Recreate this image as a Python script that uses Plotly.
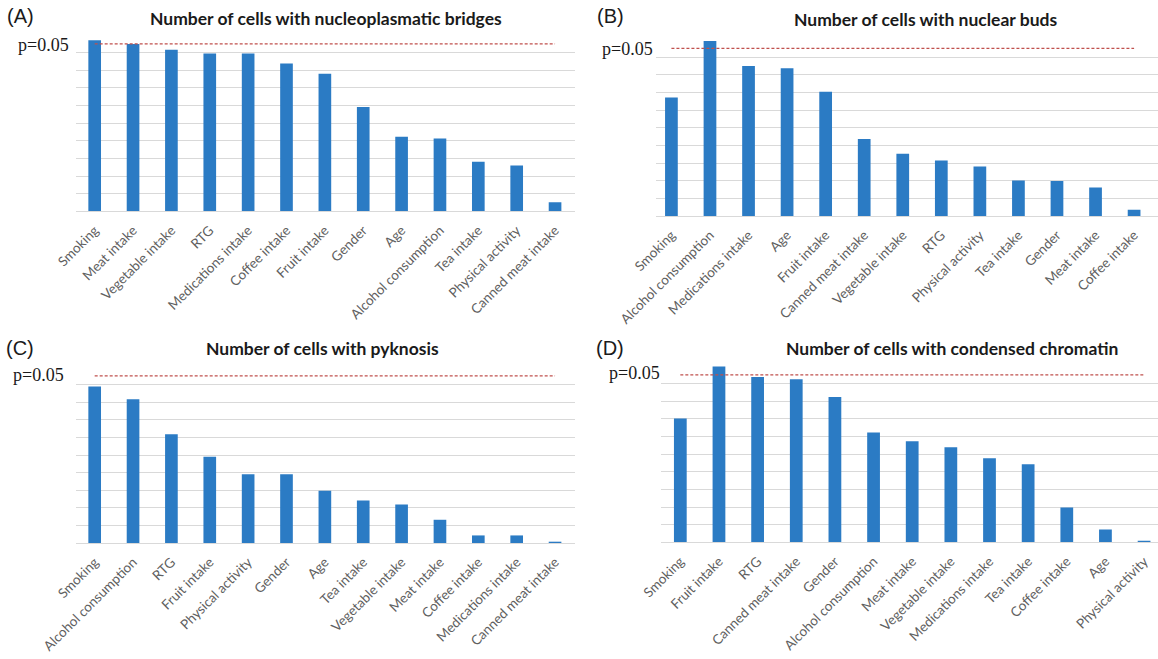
import plotly.graph_objects as go

W, H = 1158, 659

# ---------------- data ----------------
cats_a = ["Smoking", "Meat intake", "Vegetable intake", "RTG", "Medications intake",
          "Coffee intake", "Fruit intake", "Gender", "Age", "Alcohol consumption",
          "Tea intake", "Physical activity", "Canned meat intake"]
vals_a = [9.70, 9.49, 9.17, 8.96, 8.96, 8.38, 7.81, 5.92, 4.23, 4.13, 2.81, 2.60, 0.51]

cats_b = ["Smoking", "Alcohol consumption", "Medications intake", "Age", "Fruit intake",
          "Canned meat intake", "Vegetable intake", "RTG", "Physical activity",
          "Tea intake", "Gender", "Meat intake", "Coffee intake"]
vals_b = [6.72, 9.92, 8.51, 8.38, 7.04, 4.36, 3.53, 3.15, 2.81, 2.02, 1.98, 1.62, 0.36]

cats_c = ["Smoking", "Alcohol consumption", "RTG", "Fruit intake", "Physical activity",
          "Gender", "Age", "Tea intake", "Vegetable intake", "Meat intake",
          "Coffee intake", "Medications intake", "Canned meat intake"]
vals_c = [8.90, 8.17, 6.18, 4.90, 3.91, 3.91, 2.97, 2.42, 2.19, 1.32, 0.43, 0.43, 0.06]

cats_d = ["Smoking", "Fruit intake", "RTG", "Canned meat intake", "Gender",
          "Alcohol consumption", "Meat intake", "Vegetable intake", "Medications intake",
          "Tea intake", "Coffee intake", "Age", "Physical activity"]
vals_d = [7.02, 9.98, 9.38, 9.25, 8.25, 6.23, 5.74, 5.40, 4.77, 4.43, 1.98, 0.72, 0.08]

titles = ["Number of cells with nucleoplasmatic bridges",
          "Number of cells with nuclear buds",
          "Number of cells with pyknosis",
          "Number of cells with condensed chromatin"]
letters = ["(A)", "(B)", "(C)", "(D)"]
p_label = "p=0.05"
p_threshold = 9.5

# ---------------- layout helpers ----------------
def px_x(x):
    return x / W

def px_y(y):
    return 1 - y / H

BAR = "#2b7bc4"
GRID = "#d9d9d9"
DASH = "#c0504d"

panels = [
    dict(cats=cats_a, vals=vals_a, xd=(75.5, 575), yd=(211.3, 34.7), xr=(-0.5, 12.52),
         title_xy=(326, 19), letter_xy=(20, 16), p_xy=(43, 45)),
    dict(cats=cats_b, vals=vals_b, xd=(656, 1158), yd=(216.0, 39.3), xr=(-0.4, 12.62),
         title_xy=(925, 20), letter_xy=(610, 16), p_xy=(627, 49)),
    dict(cats=cats_c, vals=vals_c, xd=(75.5, 575), yd=(543.0, 366.7), xr=(-0.5, 12.52),
         title_xy=(322, 348), letter_xy=(20, 348), p_xy=(38, 375)),
    dict(cats=cats_d, vals=vals_d, xd=(661, 1158), yd=(542.3, 365.7), xr=(-0.5, 12.36),
         title_xy=(952, 348), letter_xy=(610, 348), p_xy=(634, 373)),
]

fig = go.Figure()
annotations = []
layout_axes = {}

for i, p in enumerate(panels):
    n = "" if i == 0 else str(i + 1)
    xa, ya = "x" + n, "y" + n
    fig.add_trace(go.Bar(x=p["cats"], y=p["vals"], marker=dict(color=BAR, line=dict(width=0)),
                         xaxis=xa, yaxis=ya, showlegend=False, hoverinfo="x+y"))
    fig.add_trace(go.Scatter(x=[p["cats"][0], p["cats"][-1]], y=[p_threshold, p_threshold],
                             mode="lines", line=dict(color=DASH, width=1.3, dash="3px,2px"),
                             xaxis=xa, yaxis=ya, showlegend=False, hoverinfo="skip"))
    layout_axes["xaxis" + n] = dict(
        domain=[px_x(p["xd"][0]), px_x(p["xd"][1])], anchor=ya, automargin=False,
        type="category", range=list(p["xr"]),
        showgrid=False, showline=True, linecolor=GRID, linewidth=1,
        ticks="", tickangle=-45, ticklabelstandoff=5,
        tickfont=dict(family="Lato", size=13.5, color="#606060"),
        fixedrange=True,
    )
    layout_axes["yaxis" + n] = dict(
        domain=[px_y(p["yd"][0]), px_y(p["yd"][1])], anchor=xa, automargin=False,
        range=[0, 10.02], dtick=1, tick0=0, showgrid=True, gridcolor=GRID, gridwidth=1,
        zeroline=False, showticklabels=False, ticks="", showline=False, fixedrange=True,
    )
    annotations.append(dict(text="<b>%s</b>" % titles[i], x=px_x(p["title_xy"][0]),
                            y=px_y(p["title_xy"][1]), xref="paper", yref="paper",
                            showarrow=False, xanchor="center", yanchor="middle",
                            font=dict(family="Lato", size=17.5, color="#1a1a1a")))
    annotations.append(dict(text=letters[i], x=px_x(p["letter_xy"][0]),
                            y=px_y(p["letter_xy"][1]), xref="paper", yref="paper",
                            showarrow=False, xanchor="center", yanchor="middle",
                            font=dict(family="Liberation Sans", size=20, color="#1a1a1a")))
    annotations.append(dict(text=p_label, x=px_x(p["p_xy"][0]),
                            y=px_y(p["p_xy"][1]), xref="paper", yref="paper",
                            showarrow=False, xanchor="center", yanchor="middle",
                            font=dict(family="Liberation Serif", size=18, color="#1a1a1a")))

fig.update_layout(
    template="none",
    width=W, height=H, margin=dict(l=0, r=0, t=0, b=0),
    paper_bgcolor="white", plot_bgcolor="white",
    bargap=0.67, annotations=annotations, **layout_axes,
)

fig.write_html("out.html", config={"displayModeBar": False})
